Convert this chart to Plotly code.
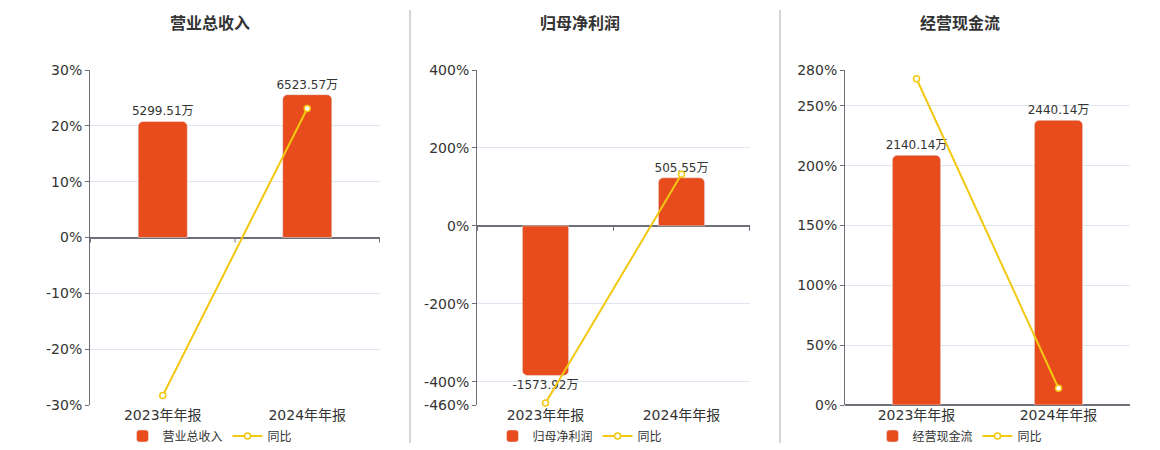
import plotly.graph_objects as go

periodos = ['2023年年报', '2024年年报']

# 营业总收入
receita = [5299.51, 6523.57]
receita_yoy = [-28.3, 23.10]

# 归母净利润
lucro = [-1573.92, 505.55]
lucro_yoy = [-455.0, 132.12]

# 经营现金流
caixa = [2140.14, 2440.14]
caixa_yoy = [272.7, 14.02]

titulos = ['营业总收入', '归母净利润', '经营现金流']

cor_barra = '#e84c1d'
cor_linha = '#f2c811'
cor_eixo = '#6e7079'
cor_grade = '#e0e6f1'
fonte = 'DejaVu Sans, Noto Sans CJK SC, sans-serif'

W, H = 1160, 450

# px -> paper
def px(x):
    return x / W

def py(y):
    return 1 - y / H

paineis = [
    dict(valores=receita, yoy=receita_yoy, x0=90, x1=380,
         faixa_barra=[-7650, 7650], faixa_pct=[-30, 30],
         ticks=[-30, -20, -10, 0, 10, 20, 30], centro=210),
    dict(valores=lucro, yoy=lucro_yoy, x0=477, x1=750,
         faixa_barra=[-1885, 1640], faixa_pct=[-460, 400],
         ticks=[-460, -400, -200, 0, 200, 400], centro=580),
    dict(valores=caixa, yoy=caixa_yoy, x0=845, x1=1130,
         faixa_barra=[0, 2871], faixa_pct=[0, 280],
         ticks=[0, 50, 100, 150, 200, 250, 280], centro=960),
]

fig = go.Figure()
layout = dict(
    width=W, height=H,
    margin=dict(l=0, r=0, t=0, b=0, autoexpand=False),
    paper_bgcolor='white', plot_bgcolor='white',
    font=dict(family=fonte, color='#333333', size=14),
    bargap=0.66,
    showlegend=True,
    annotations=[],
    shapes=[],
)

for i, p in enumerate(paineis):
    n = i + 1
    xa = 'x' if n == 1 else f'x{n}'
    yb_n = 2 * n - 1
    yl_n = 2 * n
    yb = 'y' if yb_n == 1 else f'y{yb_n}'
    yl = f'y{yl_n}'
    leg = 'legend' if n == 1 else f'legend{n}'

    fig.add_trace(go.Bar(
        x=periodos, y=p['valores'], name=titulos[i],
        xaxis=xa, yaxis=yb, legend=leg,
        marker=dict(color=cor_barra, cornerradius=5),
        text=[f'{v:.2f}万' for v in p['valores']],
        textposition='outside', cliponaxis=False, constraintext='none',
        textfont=dict(size=12, color='#333333'),
    ))
    fig.add_trace(go.Scatter(
        x=periodos, y=p['yoy'], name='同比', mode='lines+markers',
        xaxis=xa, yaxis=yl, legend=leg, cliponaxis=False,
        line=dict(color=cor_linha, width=2),
        marker=dict(symbol='circle', size=6, color='white',
                    line=dict(color=cor_linha, width=1.5)),
    ))

    xk = 'xaxis' if n == 1 else f'xaxis{n}'
    layout[xk] = dict(
        domain=[px(p['x0']), px(p['x1'])], anchor=yl,
        showgrid=False, showline=False, zeroline=False,
        tickfont=dict(size=14, color='#333333'),
        ticks='', fixedrange=True, automargin=False,
    )
    ybk = 'yaxis' if yb_n == 1 else f'yaxis{yb_n}'
    layout[ybk] = dict(
        domain=[py(405), py(70)], anchor=xa, range=p['faixa_barra'],
        showgrid=False, showticklabels=False, zeroline=False,
        showline=False, ticks='',
    )
    layout[f'yaxis{yl_n}'] = dict(
        domain=[py(405), py(70)], anchor=xa, overlaying=yb, side='left',
        range=p['faixa_pct'], tickvals=p['ticks'],
        ticktext=[f'{t}%' for t in p['ticks']],
        showgrid=True, gridcolor=cor_grade, gridwidth=1,
        zeroline=True, zerolinecolor=cor_eixo, zerolinewidth=2,
        showline=True, linecolor=cor_eixo, linewidth=1,
        ticks='outside', ticklen=4, tickcolor=cor_eixo,
        tickfont=dict(size=14, color='#333333'), automargin=False,
    )
    layout[leg] = dict(
        orientation='h', x=px(p['centro']), xanchor='center',
        y=py(436), yanchor='middle',
        font=dict(size=12, color='#333333'),
        bgcolor='rgba(0,0,0,0)', itemwidth=30,
    )
    layout['annotations'].append(dict(
        text=f'<b>{titulos[i]}</b>', x=px(p['centro']), y=py(23),
        xref='paper', yref='paper', showarrow=False,
        xanchor='center', yanchor='middle',
        font=dict(size=16, color='#333333'),
    ))
    # small category-boundary ticks hanging from the zero line
    for b in (-0.5, 0.5, 1.5):
        layout['shapes'].append(dict(
            type='line', xref=xa, yref=yl, ysizemode='pixel', yanchor=0,
            x0=b, x1=b, y0=0, y1=-5,
            line=dict(color=cor_eixo, width=1),
        ))

for xs in (410, 780):
    layout['shapes'].append(dict(
        type='line', xref='paper', yref='paper',
        x0=px(xs), x1=px(xs), y0=py(10), y1=py(443),
        line=dict(color='#aaaaaa', width=1),
    ))

fig.update_layout(**layout)
fig.write_html('out.html', config={'displayModeBar': False},
               post_script="document.body.style.margin='0';")
